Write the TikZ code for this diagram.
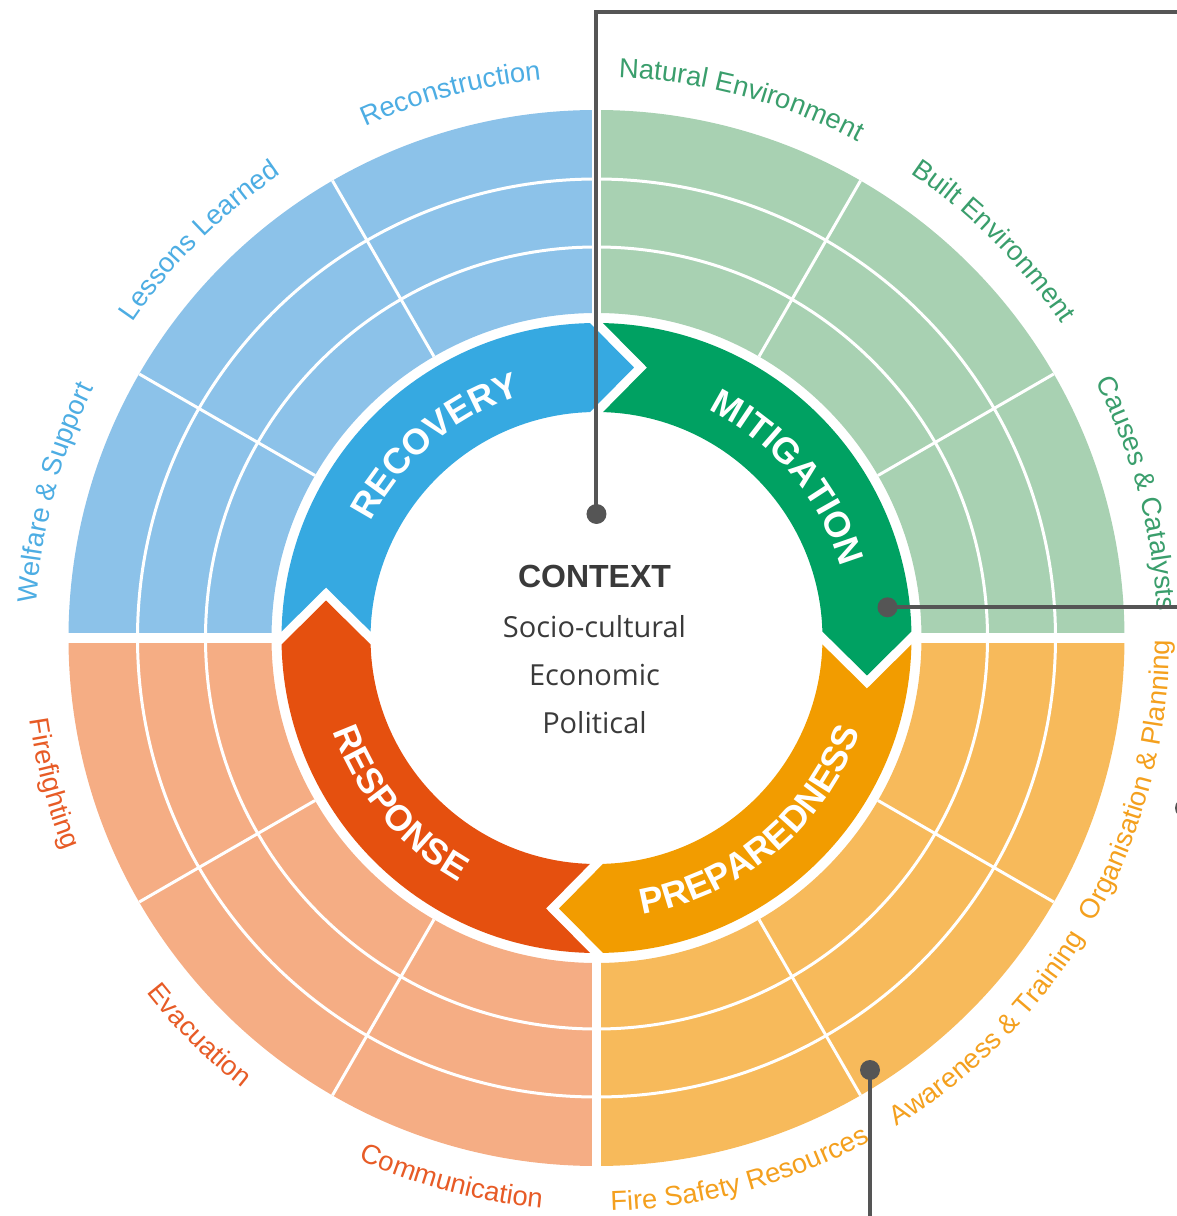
\documentclass[tikz,border=0pt]{standalone}
\usepackage{fontspec}
\setmainfont{Liberation Sans}
\newfontfamily\ctxfont{Open Sans}
\usetikzlibrary{decorations.text}

\definecolor{recblue}{HTML}{36A9E1}
\definecolor{recpale}{HTML}{8CC2E9}
\definecolor{rectext}{HTML}{4DADE3}
\definecolor{mitgreen}{HTML}{00A162}
\definecolor{mitpale}{HTML}{A8D1B2}
\definecolor{mittext}{HTML}{3A9E6C}
\definecolor{prepamber}{HTML}{F29C00}
\definecolor{preppale}{HTML}{F7BA5B}
\definecolor{preptext}{HTML}{F4A01E}
\definecolor{resred}{HTML}{E5500F}
\definecolor{respale}{HTML}{F5AD84}
\definecolor{restext}{HTML}{E75B26}
\definecolor{linkgray}{HTML}{555555}
\definecolor{ctxgray}{HTML}{3A3A3A}

\newcommand{\ringfont}{\fontsize{13.7}{16}\selectfont}
\newcommand{\arrowfont}{\fontsize{18}{21}\selectfont\bfseries}

\begin{document}
\begin{tikzpicture}[x=0.5pt,y=0.5pt,
    band/.style={draw=white,line width=1.5pt},
    gap/.style={draw=white,line width=4.65pt},
    dot/.style={circle,fill=linkgray,inner sep=0pt,minimum size=10pt},
    link/.style={draw=linkgray,line width=2pt},
    uplabel/.style n args={3}{decorate,decoration={text along path,text align=center,text color=#2,text={|\ringfont|#3}},
      insert path={(#1+40:561) arc[start angle=#1+40,end angle=#1-40,radius=561]}},
    lowlabel/.style n args={3}{decorate,decoration={text along path,text align=center,text color=#2,text={|\ringfont|#3}},
      insert path={(#1-40:573) arc[start angle=#1-40,end angle=#1+40,radius=573]}},
    uparrowtext/.style n args={2}{decorate,decoration={text along path,text align=center,text color=white,text={|\arrowfont|#2}},
      insert path={(#1+40:254) arc[start angle=#1+40,end angle=#1-40,radius=254]}},
    lowarrowtext/.style n args={2}{decorate,decoration={text along path,text align=center,text color=white,text={|\arrowfont|#2}},
      insert path={(#1-40:280) arc[start angle=#1-40,end angle=#1+40,radius=280]}}]

  \useasboundingbox (-596.5,-578) rectangle (580.5,638);

  % outer quadrants
  \foreach \a/\pale in {90/recpale,0/mitpale,-90/preppale,180/respale}
  {
    \fill[\pale] (\a:325) arc[start angle=\a,end angle=\a+90,radius=325]
      -- (\a+90:528) arc[start angle=\a+90,end angle=\a,radius=528] -- cycle;
    \foreach \r in {391,459}
    \draw[band] (\a:\r) arc[start angle=\a,end angle=\a+90,radius=\r];
    \foreach \t in {30,60}
    \draw[band] (\a+\t:325) -- (\a+\t:528);
  }
  \draw[gap] (0,318) -- (0,540); % top gap
  \draw[gap] (0,-318) -- (0,-540); % bottom gap
  \draw[gap] (318,0) -- (540,0); % right gap
  \draw[gap] (-318,0) -- (-540,0); % left gap

  % cycle arrows
  \foreach \a/\col in {180/recblue,90/mitgreen,0/prepamber,-90/resred}
  \fill[\col] (\a-1.182:315) arc[start angle=\a-1.182,end angle=\a-88.818,radius=315]
    -- (\a-97.893:273.09) -- (\a-88.352:226)
    arc[start angle=\a-88.352,end angle=\a-1.648,radius=226]
    -- (\a-10.575:275.17) -- cycle;

  \path[uparrowtext={130}{RECOVERY}];
  \path[uparrowtext={40}{MITIGATION}];
  \path[lowarrowtext={-50}{PREPAREDNESS}];
  \path[lowarrowtext={-140}{RESPONSE}];

  % ring labels
  \path[uplabel={105}{rectext}{Reconstruction}];
  \path[uplabel={135}{rectext}{Lessons Learned}];
  \path[uplabel={165}{rectext}{Welfare {\&} Support}];
  \path[uplabel={75}{mittext}{Natural Environment}];
  \path[uplabel={45}{mittext}{Built Environment}];
  \path[uplabel={15}{mittext}{Causes {\&} Catalysts}];
  \path[lowlabel={-15}{preptext}{Organisation {\&} Planning}];
  \path[lowlabel={-45}{preptext}{Awareness {\&} Training}];
  \path[lowlabel={-75}{preptext}{Fire Safety Resources}];
  \path[lowlabel={-105}{restext}{Communication}];
  \path[lowlabel={-135}{restext}{Evacuation}];
  \path[lowlabel={-165}{restext}{Firefighting}];

  % centre
  \node[anchor=base,text=ctxgray,font=\fontsize{16}{19}\selectfont\bfseries] (context) at (-2,50) {CONTEXT};
  \node[anchor=base,text=ctxgray,font=\ctxfont\fontsize{14.5}{17}\selectfont] (socio) at (-2,1) {Socio-cultural};
  \node[anchor=base,text=ctxgray,font=\ctxfont\fontsize{14.5}{17}\selectfont] (economic) at (-2,-47) {Economic};
  \node[anchor=base,text=ctxgray,font=\ctxfont\fontsize{14.5}{17}\selectfont] (political) at (-2,-95) {Political};

  % connectors
  \node[dot] (ctxdot) at (0,124) {};
  \node[dot] (mitdot) at (291,30.7) {};
  \node[dot] (prepdot) at (273.5,-432) {};
  \node[dot] (sidedot) at (588.5,-170) {};
  \coordinate (ctxbend) at (0,626);
  \coordinate (ctxend) at (620,626);
  \coordinate (mitend) at (620,30.7);
  \coordinate (prepend) at (273.5,-620);
  \draw[link] (ctxdot.center) -- (ctxbend) -- (ctxend);
  \draw[link] (mitdot.center) -- (mitend);
  \draw[link] (prepdot.center) -- (prepend);

\end{tikzpicture}
\end{document}
